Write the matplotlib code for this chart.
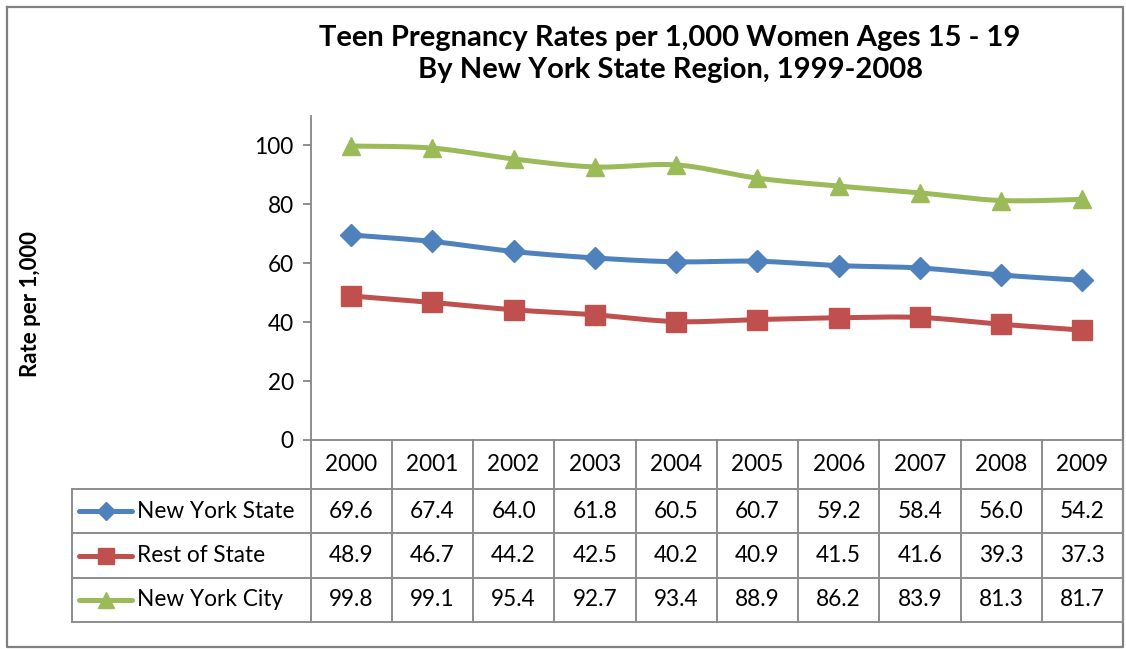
import numpy as np
import matplotlib
matplotlib.use("Agg")
import matplotlib.pyplot as plt
from matplotlib.transforms import blended_transform_factory

# ---------------- data ----------------
years = ["2000", "2001", "2002", "2003", "2004", "2005", "2006", "2007", "2008", "2009"]
series_names = ["New York State", "Rest of State", "New York City"]
new_york_state = [69.6, 67.4, 64.0, 61.8, 60.5, 60.7, 59.2, 58.4, 56.0, 54.2]
rest_of_state = [48.9, 46.7, 44.2, 42.5, 40.2, 40.9, 41.5, 41.6, 39.3, 37.3]
new_york_city = [99.8, 99.1, 95.4, 92.7, 93.4, 88.9, 86.2, 83.9, 81.3, 81.7]
y_ticks = [0, 20, 40, 60, 80, 100]
title_text = "Teen Pregnancy Rates per 1,000 Women Ages 15 - 19\nBy New York State Region, 1999-2008"
y_label = "Rate per 1,000"

series_values = [new_york_state, rest_of_state, new_york_city]
colors = ["#4F81BD", "#C0504D", "#9BBB59"]
markers = ["D", "s", "^"]
marker_sizes = [11.5, 14, 13.5]

FONT = "Lato"
plt.rcParams["font.family"] = [FONT, "DejaVu Sans"]
GRID = "#8C8C8C"
AXIS = "#868686"
FS = 16.3


def smooth(x, y, n=24):
    """Excel-like smoothed line (cubic Bezier through the points)."""
    P = np.column_stack([np.asarray(x, float), np.asarray(y, float)])
    out = []
    for i in range(len(P) - 1):
        p0 = P[i - 1] if i > 0 else P[i]
        p1, p2 = P[i], P[i + 1]
        p3 = P[i + 2] if i + 2 < len(P) else P[i + 1]
        c1 = p1 + (p2 - p0) / 6.0
        c2 = p2 - (p3 - p1) / 6.0
        t = np.linspace(0, 1, n)[:, None]
        seg = (1 - t) ** 3 * p1 + 3 * (1 - t) ** 2 * t * c1 + 3 * (1 - t) * t ** 2 * c2 + t ** 3 * p2
        out.append(seg if i == 0 else seg[1:])
    return np.vstack(out)


W, H = 1126, 649
fig = plt.figure(figsize=(W / 100, H / 100), dpi=100)

# overlay axes in pixel coordinates (for border / table)
ov = fig.add_axes([0, 0, 1, 1], zorder=0)
ov.set_xlim(0, W)
ov.set_ylim(H, 0)
ov.axis("off")

# main plot area
ax_l, ax_r, ax_t, ax_b = 310.5, 1123, 116, 440
ax = fig.add_axes([ax_l / W, 1 - ax_b / H, (ax_r - ax_l) / W, (ax_b - ax_t) / H], zorder=2)
ax.patch.set_alpha(0)

x = np.arange(len(years))
for vals, c, m, ms in zip(series_values, colors, markers, marker_sizes):
    s = smooth(x, vals)
    ax.plot(s[:, 0], s[:, 1], color=c, lw=3.6, solid_capstyle="round", zorder=3)
    ax.plot(x, vals, linestyle="none", marker=m, ms=ms, color=c, mec=c, mew=1, zorder=4)

ax.set_xlim(-0.5, len(years) - 0.5)
ax.set_ylim(0, 110)
ax.set_yticks(y_ticks)
ax.set_yticklabels([str(v) for v in y_ticks], fontsize=FS)
ax.set_xticks([])
for sp in ["top", "right"]:
    ax.spines[sp].set_visible(False)
for sp in ["left", "bottom"]:
    ax.spines[sp].set_color(AXIS)
    ax.spines[sp].set_linewidth(1.3)
ax.tick_params(axis="y", direction="out", length=5.8, width=1.3, color=AXIS, pad=6.2, labelcolor="black")

# title and y label
fig.text(670 / W, 1 - 54 / H, title_text, ha="center", va="center", fontsize=21,
         fontweight="bold", linespacing=1.3)
fig.text(31 / W, 1 - 304 / H, y_label, ha="center", va="center", rotation=90,
         fontsize=16, fontweight="bold")

# outer border
ov.plot([7, 1123, 1123, 7, 7], [7, 7, 647, 647, 7], color="#808080", lw=1.6)

# data table
tr = blended_transform_factory(ax.transData, ov.transData)
row_edges = [440, 489, 533, 578, 622]
tbl_left = 72
n = len(years)
for ye in row_edges[1:]:
    ov.plot([tbl_left, ax_r], [ye, ye], color=GRID, lw=1.4)
ov.plot([tbl_left, tbl_left], [row_edges[1], row_edges[-1]], color=GRID, lw=1.4)
for i in range(n + 1):
    xe = i - 0.5
    ov.plot([xe, xe], [row_edges[0], row_edges[-1]], color=GRID, lw=1.4, transform=tr)

hy = (row_edges[0] + row_edges[1]) / 2
for i, yr in enumerate(years):
    ov.text(i, hy, yr, transform=tr, ha="center", va="center", fontsize=FS)

for r, (name, vals, c, m, ms) in enumerate(zip(series_names, series_values, colors, markers, marker_sizes)):
    ry = (row_edges[r + 1] + row_edges[r + 2]) / 2
    for i, v in enumerate(vals):
        ov.text(i, ry, f"{v:.1f}", transform=tr, ha="center", va="center", fontsize=FS)
    ov.plot([79, 132], [ry, ry], color=c, lw=3.6, solid_capstyle="round")
    ov.plot([105.5], [ry], marker=m, ms=ms * 0.82, color=c, mec=c, mew=1)
    ov.text(137, ry, name, ha="left", va="center", fontsize=FS)

fig.savefig("out.png", dpi=100)
